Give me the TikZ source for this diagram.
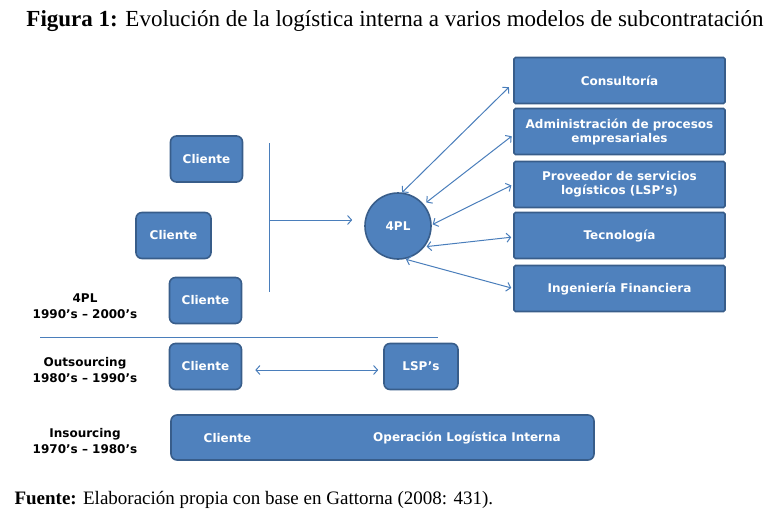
\documentclass[tikz,border=0pt]{standalone}
\usepackage{fontspec}
\setmainfont{Liberation Serif}
\newfontfamily\boxfont{DejaVu Sans}
\usetikzlibrary{arrows.meta}
\definecolor{bfill}{HTML}{4F81BD}
\definecolor{bdraw}{HTML}{385D8A}
\definecolor{aline}{HTML}{4A7EBB}
\begin{document}
\begin{tikzpicture}[x=1pt,y=-1pt,
 box/.style={draw=bdraw, line width=1.6pt, fill=bfill, rounded corners=6pt, text=white,
   font=\boxfont\bfseries\fontsize{12}{14}\selectfont, align=center, inner sep=0pt},
 cbox/.style={box, minimum width=72pt, minimum height=46pt},
 sbox/.style={box, rounded corners=1.5pt, minimum width=211pt, minimum height=46pt},
 lab/.style={font=\boxfont\bfseries\fontsize{12}{16}\selectfont, align=center, text=black},
 bartext/.style={font=\boxfont\bfseries\fontsize{12}{14}\selectfont, text=white},
 conn/.style={draw=aline, line width=1pt},
 tip/.style={-{Straight Barb[length=4pt,width=9pt]}},
 dbl/.style={conn, {Straight Barb[length=4pt,width=9pt]}-{Straight Barb[length=4pt,width=9pt]}},
]
\useasboundingbox (0,0) rectangle (771,527);

% title
\node[font=\fontsize{23}{26}\selectfont] (title) at (395,21)
  {\textbf{Figura 1:} Evolución de la logística interna a varios modelos de subcontratación};

% 4PL level
\node[cbox] (c1) at (206.5,159) {Cliente};
\node[cbox, minimum width=75pt] (c2) at (173.5,235.5) {Cliente};
\node[cbox] (c3) at (205.5,300.5) {Cliente};
\coordinate (vt) at (269,143);
\coordinate (vb) at (269,292);
\coordinate (vm) at (269,220);
\draw[conn] (vt) -- (vb);

\node[box, circle, minimum size=66pt] (p4) at (398,226) {4PL};
\draw[conn, tip, shorten >=12pt] (vm) -- (vm -| p4.west);

\node[sbox] (con) at (619.5,80.5) {Consultoría};
\node[sbox] (adm) at (619.5,131.5) {Administración de procesos\\empresariales};
\node[sbox] (pro) at (619.5,184.5) {Proveedor de servicios\\logísticos (LSP’s)};
\node[sbox] (tec) at (619.5,235.5) {Tecnología};
\node[sbox] (ing) at (619.5,288.5) {Ingeniería Financiera};

\draw[dbl, shorten >=6pt] (p4.83) -- ([yshift=-2.5pt]con.west);
\draw[dbl, shorten <=3pt, shorten >=2pt] (p4.40) -- ([yshift=-3.5pt]adm.west);
\draw[dbl, shorten <=1pt, shorten >=2pt] (p4.2) -- (pro.west);
\draw[dbl, shorten <=2pt, shorten >=2pt] (p4.-38) -- ([yshift=-1.5pt]tec.west);
\draw[dbl, shorten <=1pt, shorten >=2pt] (p4.-78) -- (ing.west);

\node[lab] (l4pl) at (85,306) {4PL\\1990’s – 2000’s};

% separator
\coordinate (sl) at (40,337);
\coordinate (sr) at (438,337);
\draw[conn] (sl) -- (sr);

% outsourcing
\node[lab] (lout) at (85,370) {Outsourcing\\1980’s – 1990’s};
\node[cbox] (oc) at (205.5,366.5) {Cliente};
\node[cbox, minimum width=74pt] (ls) at (421,366.5) {LSP’s};
\draw[dbl, shorten <=13pt, shorten >=5pt] ([yshift=-3.5pt]oc.east) -- ([yshift=-3.5pt]ls.west);

% insourcing
\node[lab] (lin) at (85,441) {Insourcing\\1970’s – 1980’s};
\node[box, minimum width=423pt, minimum height=45pt] (bar) at (382.5,437.5) {};
\node[bartext] (inc) at (227.5,438) {Cliente};
\node[bartext] (ino) at (467,438) {Operación Logística Interna};

% source
\node[anchor=west, font=\fontsize{19}{22}\selectfont] (src) at (11,500)
  {\textbf{Fuente:} Elaboración propia con base en Gattorna (2008: 431).};
\end{tikzpicture}
\end{document}
